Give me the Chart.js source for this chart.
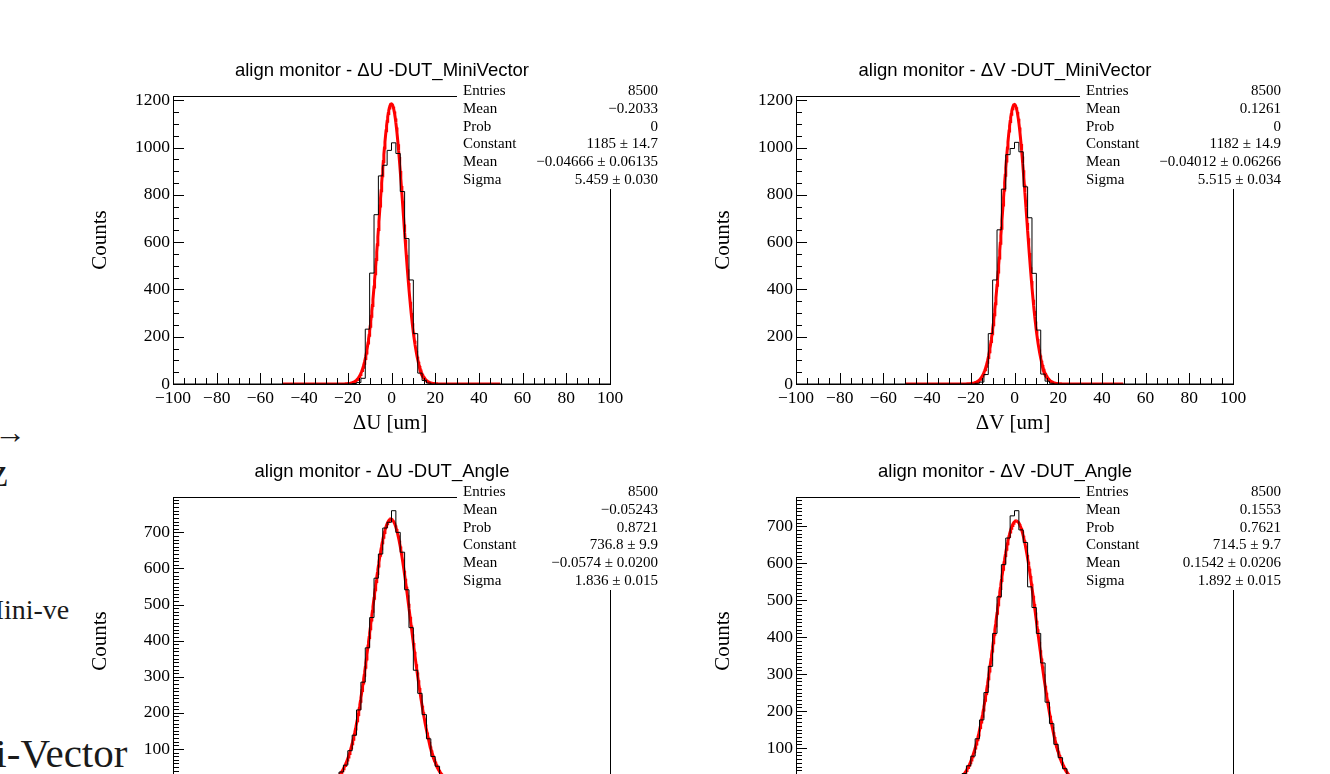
<!DOCTYPE html>
<html>
<head>
<meta charset="utf-8">
<title>align monitor</title>
<script src="https://cdn.jsdelivr.net/npm/chart.js@4.4.1/dist/chart.umd.min.js"></script>
<style>
  html, body { margin: 0; padding: 0; background: #fff; width: 1330px; height: 774px; overflow: hidden; }
  body { position: relative; }
  canvas { position: absolute; }
  .slide { position: absolute; font-family: 'Liberation Serif', serif; color: #1a1a1a; white-space: nowrap; line-height: 1; }
</style>
</head>
<body>
<div class="slide" style="left:-6px;top:416px;font-size:32px;">→</div>
<div class="slide" style="left:-10px;top:453px;font-size:40px;">z</div>
<div class="slide" style="left:-21px;top:596px;font-size:28px;">Mini-ve</div>
<div class="slide" style="left:-73px;top:733px;font-size:41px;">Mini-Vector</div>

<canvas id="duMini" width="600" height="400" style="left:80px;top:50px"></canvas>
<canvas id="dvMini" width="600" height="400" style="left:703px;top:50px"></canvas>
<canvas id="duAngle" width="600" height="400" style="left:80px;top:451px"></canvas>
<canvas id="dvAngle" width="600" height="400" style="left:703px;top:451px"></canvas>

<script>
// residual histograms (counts per bin, listed from the first non-empty bin)
const statLabels = ['Entries', 'Mean', 'Prob', 'Constant', 'Mean', 'Sigma'];

// axis labels
const miniXTicks = [-100, -80, -60, -40, -20, 0, 20, 40, 60, 80, 100];
const miniYTicks = [0, 200, 400, 600, 800, 1000, 1200];
const angleXTicks = [-20, -15, -10, -5, 0, 5, 10, 15, 20];
const angleYTicks = [0, 100, 200, 300, 400, 500, 600, 700];

// ΔU, MiniVector DUT: bins of 2 um
const duMiniFirstEdge = -18;
const duMiniBinWidth = 2;
const duMiniCounts = [2, 6, 24, 232, 469, 716, 880, 925, 988, 1020, 975, 814, 615, 440, 213, 46, 15, 4];
const duMiniStats = ['8500', '−0.2033', '0', '1185 ± 14.7', '−0.04666 ± 0.06135', '5.459 ± 0.030'];
const duMiniFit = [1185, -0.04666, 5.459];   // constant, mean, sigma
const duMiniFitRange = [-50, 50];

// ΔV, MiniVector DUT
const dvMiniFirstEdge = -18;
const dvMiniBinWidth = 2;
const dvMiniCounts = [3, 8, 40, 213, 440, 652, 824, 970, 996, 1022, 982, 834, 703, 468, 228, 42, 12, 3];
const dvMiniStats = ['8500', '0.1261', '0', '1182 ± 14.9', '−0.04012 ± 0.06266', '5.515 ± 0.034'];
const dvMiniFit = [1182, -0.04012, 5.515];
const dvMiniFitRange = [-50, 50];

// ΔU, Angle DUT: bins of 0.4 um
const duAngleFirstEdge = -6.4;
const duAngleBinWidth = 0.4;
const duAngleCounts = [2, 5, 11, 21, 36, 55, 95, 138, 208, 285, 380, 464, 573, 640, 712, 728,
                       760, 700, 645, 541, 436, 318, 254, 195, 128, 79, 52, 28, 17, 9, 4, 2];
const duAngleStats = ['8500', '−0.05243', '0.8721', '736.8 ± 9.9', '−0.0574 ± 0.0200', '1.836 ± 0.015'];
const duAngleFit = [736.8, -0.0574, 1.836];
const duAngleFitRange = [-10, 10];

// ΔV, Angle DUT
const dvAngleFirstEdge = -6.4;
const dvAngleBinWidth = 0.4;
const dvAngleCounts = [3, 5, 10, 18, 31, 52, 78, 125, 176, 250, 321, 410, 509, 596, 668, 728,
                       742, 690, 656, 536, 480, 410, 330, 224, 166, 110, 74, 44, 27, 15, 8, 4];
const dvAngleStats = ['8500', '0.1553', '0.7621', '714.5 ± 9.7', '0.1542 ± 0.0206', '1.892 ± 0.015'];
const dvAngleFit = [714.5, 0.1542, 1.892];
const dvAngleFitRange = [-10, 10];

const SERIF = "'Liberation Serif', 'Times New Roman', serif";
const SANS = "'Liberation Sans', Arial, sans-serif";

function fmtTick(v) {
    return v < 0 ? '−' + Math.abs(v) : String(v);
}

function histPoints(firstEdge, width, counts, xmin, xmax) {
    const pts = [{ x: xmin, y: 0 }, { x: firstEdge, y: 0 }];
    counts.forEach((c, i) => pts.push({ x: firstEdge + i * width, y: c }));
    pts.push({ x: firstEdge + counts.length * width, y: 0 });
    pts.push({ x: xmax, y: 0 });
    return pts;
}

// gaussian fit curve from the fitted constant / mean / sigma
function fitPoints(p, range, step) {
    const pts = [];
    const n = Math.round((range[1] - range[0]) / step);
    for (let i = 0; i <= n; i++) {
        const x = range[0] + i * step;
        const z = (x - p[1]) / p[2];
        pts.push({ x: x, y: p[0] * Math.exp(-0.5 * z * z) });
    }
    return pts;
}

// ROOT-like frame: box, inward ticks, title, axis titles and stats box
const rootFrame = {
    id: 'rootFrame',
    afterDatasetsDraw(chart, args, opts) {
        const { ctx, chartArea: a, scales: { x, y } } = chart;
        ctx.save();
        ctx.strokeStyle = '#000';
        ctx.lineWidth = 1;
        ctx.strokeRect(a.left + 0.5, a.top + 0.5, a.right - a.left, a.bottom - a.top);

        ctx.beginPath();
        let n = Math.round((x.max - x.min) / opts.xMinor);
        let every = Math.round(opts.xMajor / opts.xMinor);
        for (let i = 0; i <= n; i++) {
            const px = Math.round(x.getPixelForValue(x.min + i * opts.xMinor)) + 0.5;
            const len = (i % every === 0) ? 11 : 6;
            ctx.moveTo(px, a.bottom);
            ctx.lineTo(px, a.bottom - len);
        }
        n = Math.floor(y.max / opts.yMinor);
        every = Math.round(opts.yMajor / opts.yMinor);
        for (let i = 0; i <= n; i++) {
            const py = Math.round(y.getPixelForValue(i * opts.yMinor)) + 0.5;
            const len = (i % every === 0) ? 11 : 6;
            ctx.moveTo(a.left, py);
            ctx.lineTo(a.left + len, py);
        }
        ctx.stroke();
        ctx.restore();
    },
    afterDraw(chart, args, opts) {
        const { ctx, chartArea: a } = chart;
        ctx.save();
        ctx.fillStyle = '#000';

        ctx.font = '18.5px ' + SANS;
        ctx.textAlign = 'center';
        ctx.textBaseline = 'alphabetic';
        ctx.fillText(opts.title, (a.left + a.right) / 2 - 9.5, a.top - 20);

        ctx.font = '21px ' + SERIF;
        ctx.fillText(opts.xTitle, (a.left + a.right) / 2 - 1.5, a.bottom + 45);

        ctx.save();
        ctx.translate(a.left - 73, (a.top + a.bottom) / 2);
        ctx.rotate(-Math.PI / 2);
        ctx.textBaseline = 'middle';
        ctx.fillText('Counts', 0, 0);
        ctx.restore();

        // stats box
        ctx.fillStyle = '#fff';
        ctx.fillRect(a.left + 284, a.top - 14, 208, 107);
        ctx.fillStyle = '#000';
        ctx.font = '15px ' + SERIF;
        ctx.textBaseline = 'middle';
        statLabels.forEach((lab, i) => {
            const ry = a.top - 5 + i * 17.8;
            ctx.textAlign = 'left';
            ctx.fillText(lab, a.left + 290, ry);
            ctx.textAlign = 'right';
            ctx.fillText(opts.stats[i], a.right + 48, ry);
        });
        ctx.restore();
    }
};

function makeHist(id, cfg) {
    const tickFont = { family: SERIF, size: 17.5 };
    return new Chart(document.getElementById(id), {
        type: 'scatter',
        data: {
            datasets: [{
                data: histPoints(cfg.firstEdge, cfg.binWidth, cfg.counts, cfg.xMin, cfg.xMax),
                showLine: true,
                stepped: true,
                borderColor: '#000',
                borderWidth: 1,
                pointRadius: 0
            }, {
                data: fitPoints(cfg.fit, cfg.fitRange, cfg.fitStep),
                showLine: true,
                borderColor: '#ff0000',
                borderWidth: 3,
                tension: 0,
                pointRadius: 0
            }]
        },
        options: {
            responsive: false,
            animation: false,
            events: [],
            layout: { padding: { left: 0, top: 46, right: 70, bottom: 0 } },
            plugins: {
                legend: { display: false },
                tooltip: { enabled: false },
                rootFrame: {
                    title: cfg.title,
                    xTitle: cfg.xTitle,
                    stats: cfg.stats,
                    xMinor: cfg.xMinor, xMajor: cfg.xMajor,
                    yMinor: cfg.yMinor, yMajor: cfg.yMajor
                }
            },
            scales: {
                x: {
                    type: 'linear',
                    min: cfg.xMin,
                    max: cfg.xMax,
                    grid: { display: false, drawTicks: false },
                    border: { display: false },
                    ticks: {
                        autoSkip: false,
                        maxRotation: 0,
                        padding: 4,
                        color: '#000',
                        font: tickFont,
                        callback: v => fmtTick(v)
                    },
                    afterBuildTicks: s => { s.ticks = cfg.xTicks.map(v => ({ value: v })); },
                    afterFit: s => { s.height = 66; }
                },
                y: {
                    min: 0,
                    max: cfg.yMax,
                    grid: { display: false, drawTicks: false },
                    border: { display: false },
                    ticks: {
                        autoSkip: false,
                        padding: 3,
                        color: '#000',
                        font: tickFont,
                        callback: v => String(v)
                    },
                    afterBuildTicks: s => { s.ticks = cfg.yTicks.map(v => ({ value: v })); },
                    afterFit: s => { s.width = 93; }
                }
            }
        },
        plugins: [rootFrame]
    });
}

makeHist('duMini', {
    firstEdge: duMiniFirstEdge, binWidth: duMiniBinWidth, counts: duMiniCounts,
    fit: duMiniFit, fitRange: duMiniFitRange, fitStep: 0.25, stats: duMiniStats,
    title: 'align monitor - ΔU -DUT_MiniVector', xTitle: 'ΔU [um]',
    xMin: -100, xMax: 100, xMajor: 20, xMinor: 5, yMax: 1218, yMajor: 200, yMinor: 50,
    xTicks: miniXTicks, yTicks: miniYTicks
});
makeHist('dvMini', {
    firstEdge: dvMiniFirstEdge, binWidth: dvMiniBinWidth, counts: dvMiniCounts,
    fit: dvMiniFit, fitRange: dvMiniFitRange, fitStep: 0.25, stats: dvMiniStats,
    title: 'align monitor - ΔV -DUT_MiniVector', xTitle: 'ΔV [um]',
    xMin: -100, xMax: 100, xMajor: 20, xMinor: 5, yMax: 1218, yMajor: 200, yMinor: 50,
    xTicks: miniXTicks, yTicks: miniYTicks
});
makeHist('duAngle', {
    firstEdge: duAngleFirstEdge, binWidth: duAngleBinWidth, counts: duAngleCounts,
    fit: duAngleFit, fitRange: duAngleFitRange, fitStep: 0.05, stats: duAngleStats,
    title: 'align monitor - ΔU -DUT_Angle', xTitle: 'ΔU [um]',
    xMin: -20, xMax: 20, xMajor: 5, xMinor: 1, yMax: 798, yMajor: 100, yMinor: 10,
    xTicks: angleXTicks, yTicks: angleYTicks
});
makeHist('dvAngle', {
    firstEdge: dvAngleFirstEdge, binWidth: dvAngleBinWidth, counts: dvAngleCounts,
    fit: dvAngleFit, fitRange: dvAngleFitRange, fitStep: 0.05, stats: dvAngleStats,
    title: 'align monitor - ΔV -DUT_Angle', xTitle: 'ΔV [um]',
    xMin: -20, xMax: 20, xMajor: 5, xMinor: 1, yMax: 779, yMajor: 100, yMinor: 10,
    xTicks: angleXTicks, yTicks: angleYTicks
});
</script>
</body>
</html>
